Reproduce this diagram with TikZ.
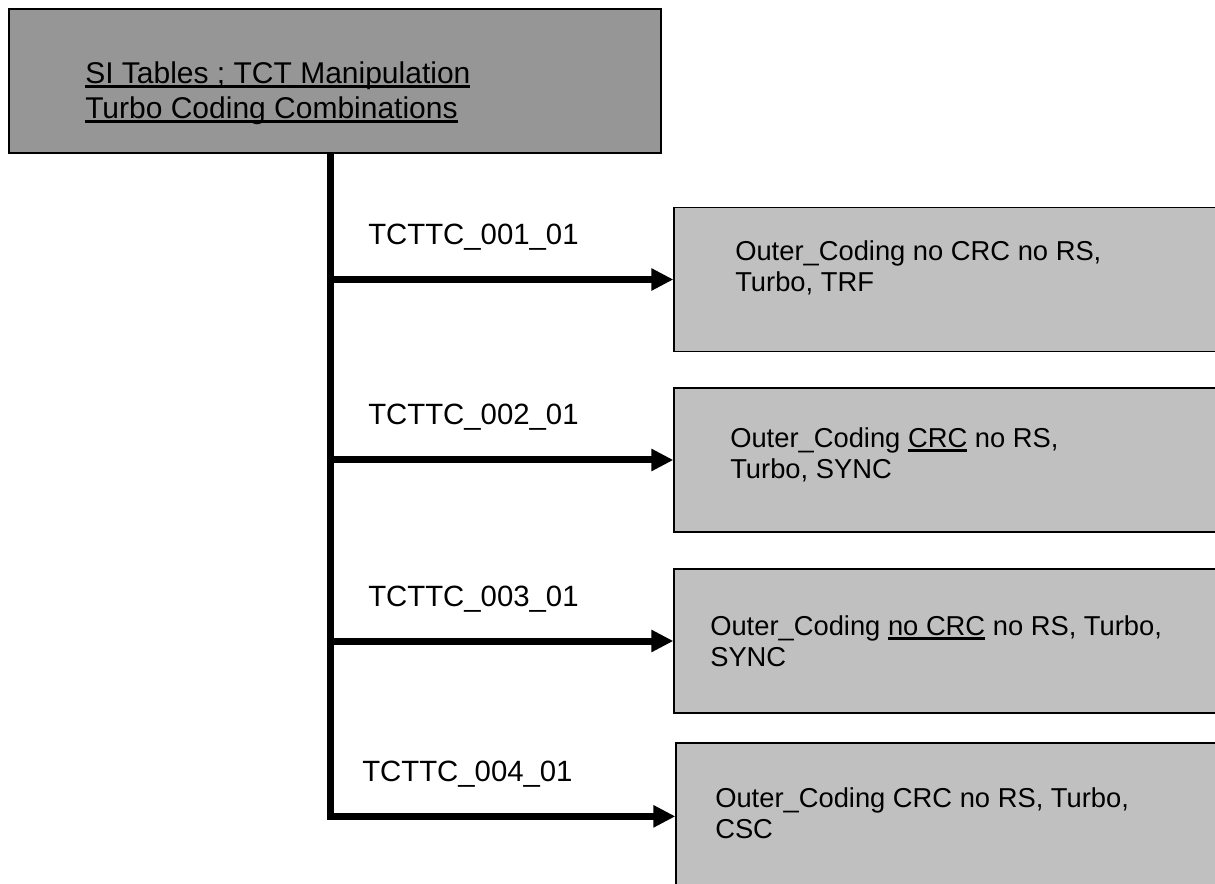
\documentclass[tikz,border=0pt]{standalone}
\usepackage{fontspec}
\setmainfont{Liberation Sans}
\usepackage{tikz}
\usetikzlibrary{arrows.meta}
\usepackage{xcolor}
\definecolor{headgray}{RGB}{150,150,150}
\definecolor{boxgray}{RGB}{192,192,192}
\newcommand{\ulx}[1]{\setbox0=\hbox{#1}\rlap{\rule[-0.17em]{\wd0}{0.1em}}\box0\relax}

\begin{document}
\begin{tikzpicture}[x=0.75pt,y=-0.75pt,>={Triangle[length=16.5pt,width=15.75pt]},
  frame/.style={draw=black,line width=1pt,inner sep=0pt},
  outbox/.style={frame,fill=boxgray,minimum width=430pt,minimum height=108pt},
  txt/.style={anchor=north west,inner sep=0pt,align=left,font={\fontsize{20.5pt}{23.25pt}\selectfont}},
  lbl/.style={anchor=base west,inner sep=0pt,font={\fontsize{22pt}{26pt}\selectfont}},
  stem/.style={->,line width=5.25pt}]
\useasboundingbox (0,0) rectangle (1215,884);
\node[frame,fill=headgray,minimum width=489pt,minimum height=108pt] (head) at (335,81) {};
\node[txt,font={\fontsize{22.5pt}{26.25pt}\selectfont}] (headtxt) at (85,61) {\ulx{SI Tables ; TCT Manipulation}\\\ulx{Turbo Coding Combinations}};
\node[outbox] (out1) at (960.7,279.5) {};
\node[outbox] (out2) at (960.7,460) {};
\node[outbox] (out3) at (960.7,641) {};
\node[outbox,minimum height=112pt] (out4) at (962.7,817.7) {};
\node[txt] (txt1) at (735,240) {Outer\_Coding no CRC no RS,\\Turbo, TRF};
\node[txt] (txt2) at (730,427) {Outer\_Coding \ulx{CRC} no RS,\\Turbo, SYNC};
\node[txt] (txt3) at (710,615) {Outer\_Coding \ulx{no CRC} no RS, Turbo,\\SYNC};
\node[txt] (txt4) at (715,787) {Outer\_Coding CRC no RS, Turbo,\\CSC};
\coordinate (trunk) at (330,153);
\draw[stem] (trunk) |- ([yshift=1pt]out4.west);
\foreach \i in {1,2,3}
  \draw[stem] (out\i.west -| trunk) -- (out\i.west);
\node[lbl] (tc1) at (368,245) {TCTTC\_001\_01};
\node[lbl] (tc2) at (368,425) {TCTTC\_002\_01};
\node[lbl] (tc3) at (368,606) {TCTTC\_003\_01};
\node[lbl] (tc4) at (362,781) {TCTTC\_004\_01};
\end{tikzpicture}
\end{document}
